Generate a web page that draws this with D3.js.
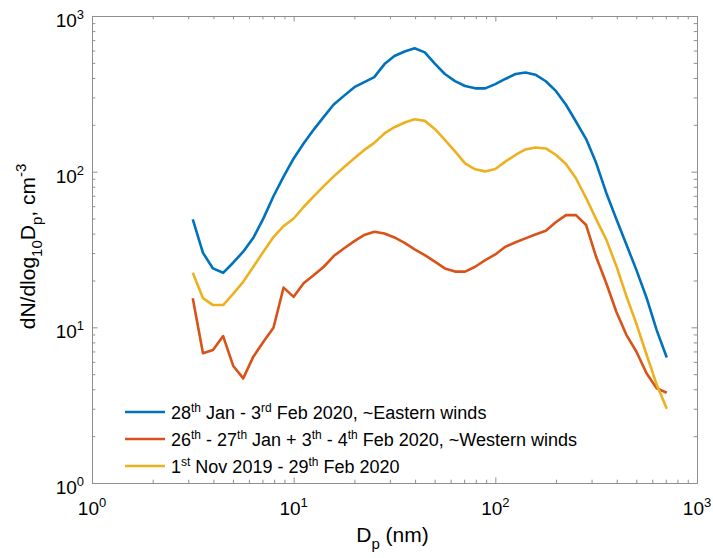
<!DOCTYPE html>
<html>
<head>
<meta charset="utf-8">
<script src="https://cdn.jsdelivr.net/npm/d3@7"></script>
<style>
  body { margin: 0; background: #fff; }
  svg text { font-family: 'Liberation Sans', Arial, Helvetica, sans-serif; fill: #000; }
</style>
</head>
<body>
<svg id="chart" width="713" height="558"></svg>
<script>
// particle diameter (nm)
var diameters = [3.16, 3.55, 3.98, 4.47, 5.01, 5.62, 6.31, 7.08, 7.94, 8.91,
                 10.0, 11.2, 12.6, 14.1, 15.8, 17.8, 20.0, 22.4, 25.1, 28.2,
                 31.6, 35.5, 39.8, 44.7, 50.1, 56.2, 63.1, 70.8, 79.4, 89.1,
                 100, 112, 126, 141, 158, 178, 200, 224, 251, 282,
                 316, 355, 398, 447, 501, 562, 631, 708];

// dN/dlog10Dp, cm-3
var eastern = [49.4, 30.1, 23.9, 22.4, 26.0, 30.6, 37.6, 50.1, 69.5, 93.0,
               121.6, 151.7, 187, 225, 270, 308, 349, 376, 405, 491,
               553, 592, 620, 584, 495, 424, 382, 355, 343, 343,
               365, 394, 424, 434, 420, 381, 329, 269, 210, 162,
               114, 73.0, 49.6, 33.9, 23.3, 15.5, 9.6, 6.4];

var western = [15.4, 6.81, 7.15, 8.79, 5.67, 4.70, 6.48, 8.08, 9.94, 18.0,
               15.7, 19.2, 21.7, 24.5, 28.7, 32.2, 35.8, 39.2, 41.1, 40.1,
               37.8, 34.9, 31.7, 29.1, 26.4, 23.9, 22.8, 22.8, 24.5, 27.0,
               29.4, 32.9, 35.2, 37.3, 39.5, 41.7, 47.5, 52.6, 52.6, 45.4,
               28.4, 19.2, 12.6, 8.92, 6.97, 5.07, 4.06, 3.80];

var overall = [22.4, 15.4, 13.9, 13.9, 16.4, 19.6, 24.5, 30.6, 38.0, 44.7,
               50.0, 59.3, 69.7, 80.8, 93.3, 107, 122, 138, 153, 176,
               193, 207, 217, 212, 188, 160, 135, 113, 103.5, 100.4,
               104, 116, 128, 139, 143, 141, 128, 112, 90.7, 67.7,
               49.6, 36.6, 24.8, 15.8, 10.5, 6.69, 4.29, 3.0];

var majorTicks = [1, 10, 100, 1000];
var tickExponents = ['0', '1', '2', '3'];

// legend labels: pieces of [text, 'sup' | null]
var legendLabels = [
  [['28', null], ['th', 'sup'], [' Jan - 3', null], ['rd', 'sup'], [' Feb 2020, ~Eastern winds', null]],
  [['26', null], ['th', 'sup'], [' - 27', null], ['th', 'sup'], [' Jan + 3', null], ['th', 'sup'], [' - 4', null], ['th', 'sup'], [' Feb 2020, ~Western winds', null]],
  [['1', null], ['st', 'sup'], [' Nov 2019 - 29', null], ['th', 'sup'], [' Feb 2020', null]]
];
var colors = ['#0072BD', '#D95319', '#EDB120'];
var seriesList = [eastern, western, overall];

var svg = d3.select('#chart'),
    plotLeft = 92, plotRight = 697, plotTop = 16, plotBottom = 483,
    axisColor = '#8f8f8f';

var x = d3.scaleLog().domain([1, 1000]).range([plotLeft, plotRight]);
var y = d3.scaleLog().domain([1, 1000]).range([plotBottom, plotTop]);

// minor ticks 2..9 of each decade
var minorTicks = [];
majorTicks.slice(0, 3).forEach(function(m) {
  for (var k = 2; k <= 9; k++) minorTicks.push(m * k);
});

function drawAxis(axisFn, scale, ticks, size, transform) {
  var g = svg.append('g')
             .attr('transform', transform)
             .call(axisFn(scale).tickValues(ticks).tickSize(size).tickSizeOuter(0).tickFormat(''));
  g.selectAll('path, line').attr('stroke', axisColor);
}

// box with inward ticks on all sides
[[majorTicks, -5.5], [minorTicks, -3.3]].forEach(function(t) {
  drawAxis(d3.axisBottom, x, t[0], t[1], 'translate(0,' + plotBottom + ')');
  drawAxis(d3.axisTop, x, t[0], t[1], 'translate(0,' + plotTop + ')');
  drawAxis(d3.axisLeft, y, t[0], t[1], 'translate(' + plotLeft + ',0)');
  drawAxis(d3.axisRight, y, t[0], t[1], 'translate(' + plotRight + ',0)');
});

// tick labels 10^n
majorTicks.forEach(function(v, i) {
  var t = svg.append('text')
             .attr('x', x(v))
             .attr('y', plotBottom + 32)
             .attr('text-anchor', 'middle')
             .style('font-size', '19px');
  t.append('tspan').text('10');
  t.append('tspan').attr('dy', -8).style('font-size', '13px').text(tickExponents[i]);

  var ty = svg.append('text')
              .attr('x', plotLeft - 8)
              .attr('y', y(v) + 11)
              .attr('text-anchor', 'end')
              .style('font-size', '19px');
  ty.append('tspan').text('10');
  ty.append('tspan').attr('dy', -8).style('font-size', '13px').text(tickExponents[i]);
});

// x label
var xl = svg.append('text')
            .attr('x', (plotLeft + plotRight) / 2 - 2)
            .attr('y', 542)
            .attr('text-anchor', 'middle')
            .style('font-size', '21px');
xl.append('tspan').text('D');
xl.append('tspan').attr('dy', 7).style('font-size', '15px').text('p');
xl.append('tspan').attr('dy', -7).text(' (nm)');

// y label
var yl = svg.append('text')
            .attr('transform', 'translate(35,' + ((plotTop + plotBottom) / 2 - 3) + ') rotate(-90)')
            .attr('text-anchor', 'middle')
            .style('font-size', '21px');
yl.append('tspan').text('dN/dlog');
yl.append('tspan').attr('dy', 7).style('font-size', '15px').text('10');
yl.append('tspan').attr('dy', -7).text('D');
yl.append('tspan').attr('dy', 7).style('font-size', '15px').text('p');
yl.append('tspan').attr('dy', -7).text(', cm');
yl.append('tspan').attr('dy', -9).style('font-size', '15px').text('-3');

// curves
var line = d3.line()
             .x(function(d) { return x(d[0]); })
             .y(function(d) { return y(d[1]); });

seriesList.forEach(function(s, i) {
  svg.append('path')
     .datum(diameters.map(function(dp, j) { return [dp, s[j]]; }))
     .attr('fill', 'none')
     .attr('stroke', colors[i])
     .attr('stroke-width', 2.6)
     .attr('stroke-linejoin', 'round')
     .attr('d', line);
});

// legend
var legend = svg.append('g').attr('transform', 'translate(125,412)');
legendLabels.forEach(function(parts, i) {
  var row = legend.append('g').attr('transform', 'translate(0,' + i * 27 + ')');
  row.append('line')
     .attr('x1', 0).attr('x2', 40)
     .attr('stroke', colors[i])
     .attr('stroke-width', 2.6);
  var t = row.append('text')
             .attr('x', 46)
             .attr('y', 7)
             .style('font-size', '18px');
  var raised = false;
  parts.forEach(function(p) {
    var ts = t.append('tspan').text(p[0]);
    if (p[1] === 'sup' && !raised) { ts.attr('dy', -7.5).style('font-size', '12px'); raised = true; }
    else if (p[1] !== 'sup' && raised) { ts.attr('dy', 7.5); raised = false; }
  });
});
</script>
</body>
</html>
